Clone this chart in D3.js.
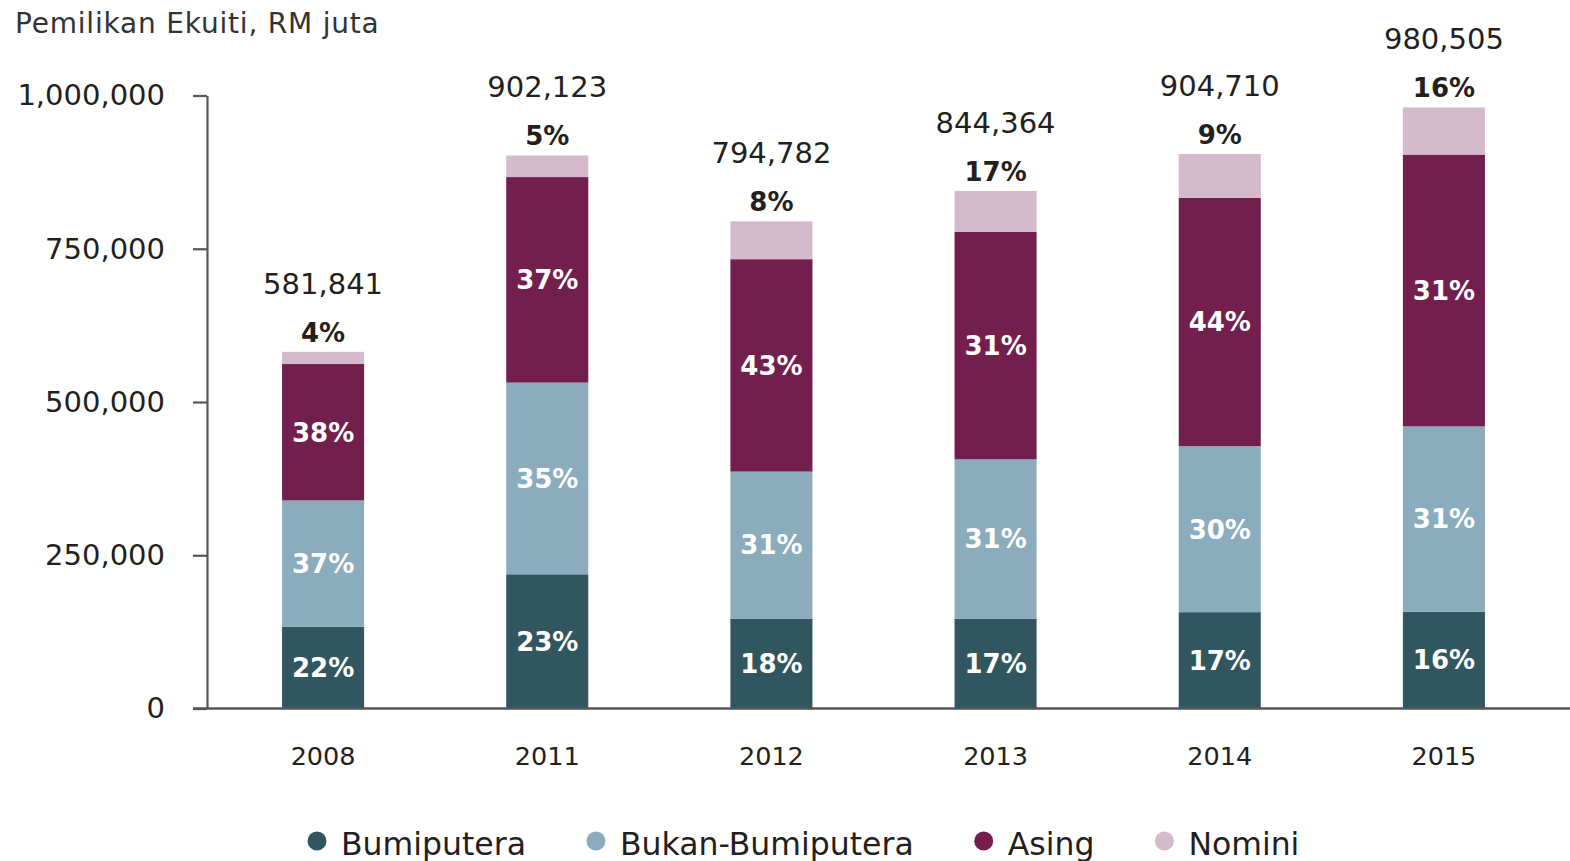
<!DOCTYPE html>
<html>
<head>
<meta charset="utf-8">
<script src="https://cdn.jsdelivr.net/npm/d3@7/dist/d3.min.js"></script>
<style>
  html, body { margin: 0; padding: 0; background: #ffffff; }
  svg { display: block; }
  text { font-family: "DejaVu Sans", sans-serif; fill: #231f20; }
</style>
</head>
<body>
<svg id="chart" width="1570" height="861"></svg>
<script>
// Equity ownership by group, RM million
const years = ["2008", "2011", "2012", "2013", "2014", "2015"];
const totals = [581841, 902123, 794782, 844364, 904710, 980505];
const bumiputera = [133300, 218900, 146597, 146582, 157139, 157989];
const bukanBumiputera = [206100, 312766, 239882, 259853, 270807, 302192];
const asing = [222540, 335274, 346502, 371292, 405211, 443404];
const nomini = [19901, 35183, 61801, 66637, 71553, 76920];

// Share labels as printed on each segment
const pctBumiputera = ["22%", "23%", "18%", "17%", "17%", "16%"];
const pctBukanBumiputera = ["37%", "35%", "31%", "31%", "30%", "31%"];
const pctAsing = ["38%", "37%", "43%", "31%", "44%", "31%"];
const pctNomini = ["4%", "5%", "8%", "17%", "9%", "16%"];

const yTicks = [0, 250000, 500000, 750000, 1000000];
const seriesNames = ["Bumiputera", "Bukan-Bumiputera", "Asing", "Nomini"];
const seriesColors = ["#325660", "#8aacbc", "#721f4e", "#d5bacb"];

const seriesValues = [bumiputera, bukanBumiputera, asing, nomini];
const seriesPct = [pctBumiputera, pctBukanBumiputera, pctAsing, pctNomini];

const rows = years.map((yr, i) => {
  const r = { year: yr, total: totals[i] };
  seriesNames.forEach((k, j) => { r[k] = seriesValues[j][i]; });
  return r;
});

const svg = d3.select("#chart");

const x = d3.scaleBand().domain(years).range([211, 1556]).paddingInner(0.634).paddingOuter(0.317);
const y = d3.scaleLinear().domain([0, 1000000]).range([708.5, 95.5]);

const stack = d3.stack().keys(seriesNames);
const layers = stack(rows);

// Stacked bars
const layerG = svg.append("g").selectAll("g")
  .data(layers)
  .join("g")
  .attr("fill", (d, i) => seriesColors[i]);

layerG.selectAll("rect")
  .data(d => d)
  .join("rect")
  .attr("x", d => x(d.data.year))
  .attr("width", x.bandwidth())
  .attr("y", d => y(d[1]))
  .attr("height", d => y(d[0]) - y(d[1]));

// Share labels inside the lower three segments
layers.slice(0, 3).forEach((layer, li) => {
  svg.append("g").selectAll("text")
    .data(layer)
    .join("text")
    .attr("x", d => x(d.data.year) + x.bandwidth() / 2)
    .attr("y", d => (y(d[0]) + y(d[1])) / 2)
    .attr("dy", "0.36em")
    .attr("text-anchor", "middle")
    .style("font-size", "26px")
    .style("font-weight", "bold")
    .style("fill", "#ffffff")
    .text((d, i) => seriesPct[li][i]);
});

// Nomini share and totals above each bar
svg.append("g").selectAll("text")
  .data(rows)
  .join("text")
  .attr("x", d => x(d.year) + x.bandwidth() / 2)
  .attr("y", d => y(d.total) - 10)
  .attr("text-anchor", "middle")
  .style("font-size", "26px")
  .style("font-weight", "bold")
  .text((d, i) => pctNomini[i]);

svg.append("g").selectAll("text")
  .data(rows)
  .join("text")
  .attr("x", d => x(d.year) + x.bandwidth() / 2)
  .attr("y", d => y(d.total) - 58)
  .attr("text-anchor", "middle")
  .style("font-size", "29px")
  .text(d => d3.format(",")(d.total));

// Y axis
const yAxis = svg.append("g")
  .attr("transform", "translate(207,0)")
  .call(d3.axisLeft(y).tickValues(yTicks).tickFormat(d3.format(",")).tickSize(14).tickSizeOuter(0).tickPadding(28));
yAxis.select(".domain").attr("stroke", "#555555").attr("stroke-width", 2.2);
yAxis.selectAll(".tick line").attr("stroke", "#555555").attr("stroke-width", 2.2);
yAxis.selectAll(".tick text")
  .style("font-size", "29px")
  .style("font-family", "'DejaVu Sans', sans-serif")
  .attr("fill", "#231f20");

// Baseline across the plot
svg.append("line")
  .attr("x1", 193).attr("x2", 1570)
  .attr("y1", y(0)).attr("y2", y(0))
  .attr("stroke", "#555555")
  .attr("stroke-width", 2.4);

// Year labels
svg.append("g").selectAll("text")
  .data(years)
  .join("text")
  .attr("x", d => x(d) + x.bandwidth() / 2)
  .attr("y", 765)
  .attr("text-anchor", "middle")
  .style("font-size", "25.5px")
  .text(d => d);

// Axis title
svg.append("text")
  .attr("x", 15)
  .attr("y", 33)
  .style("font-size", "28px")
  .style("letter-spacing", "0.8px")
  .style("fill", "#333333")
  .text("Pemilikan Ekuiti, RM juta");

// Legend: dot, then label, laid out left to right
const legend = svg.append("g").attr("transform", "translate(307.5,0)");
let cursor = 0;
seriesNames.forEach((name, i) => {
  const g = legend.append("g");
  g.append("circle").attr("cx", cursor + 9.5).attr("cy", 841).attr("r", 9.5).attr("fill", seriesColors[i]);
  const t = g.append("text")
    .attr("x", cursor + 33.5)
    .attr("y", 855)
    .style("font-size", "31.5px")
    .text(name);
  const w = t.node().getComputedTextLength();
  cursor = cursor + 33.5 + w + 60.5;
});
</script>
</body>
</html>
